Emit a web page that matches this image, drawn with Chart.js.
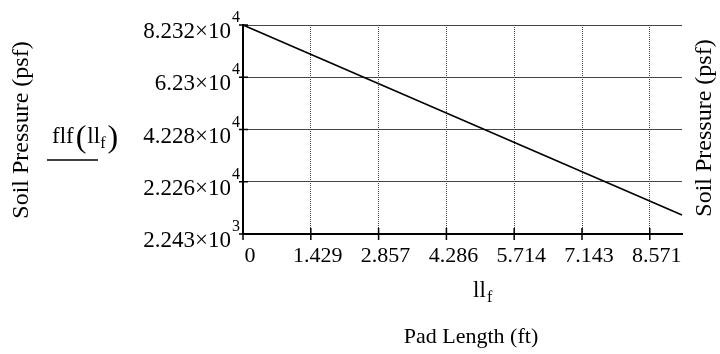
<!DOCTYPE html>
<html>
<head>
<meta charset="utf-8">
<title>Soil Pressure vs Pad Length</title>
<script src="https://cdn.jsdelivr.net/npm/chart.js@4.4.0/dist/chart.umd.min.js"></script>
<style>
    html, body { margin: 0; padding: 0; background: #fff; }
    #wrap { width: 720px; height: 354px; }
</style>
</head>
<body>
<div id="wrap"><canvas id="pressureChart" width="720" height="354"></canvas></div>
<script>
// Values
const padLength = [0, 9.25];            // ft
const soilPressure = [82320, 9520];     // psf

const xTicks = [0, 1.429, 2.857, 4.286, 5.714, 7.143, 8.571];
const xTickLabels = ['0', '1.429', '2.857', '4.286', '5.714', '7.143', '8.571'];
const yTicks = [2243, 22260, 42280, 62300, 82320];
const yTickMantissa = ['2.243', '2.226', '4.228', '6.23', '8.232'];
const yTickExponent = ['3', '4', '4', '4', '4'];

const xMin = 0, xMax = 9.25;
const yMin = 2243, yMax = 82320;

const serif = '"Liberation Serif", "Times New Roman", serif';

// Mathcad style labels, crossing tick marks and titles
const mathcadLabels = {
    id: 'mathcadLabels',
    afterDraw(chart) {
        const ctx = chart.ctx;
        const xs = chart.scales.x;
        const ys = chart.scales.y;
        const area = chart.chartArea;
        ctx.save();
        ctx.fillStyle = '#000';
        ctx.strokeStyle = '#000';

        // tick marks crossing the axes
        ctx.lineWidth = 1.5;
        xTicks.forEach(v => {
            const px = xs.getPixelForValue(v);
            ctx.beginPath();
            ctx.moveTo(px, area.bottom - 6);
            ctx.lineTo(px, area.bottom + 6);
            ctx.stroke();
        });
        yTicks.forEach(v => {
            const py = ys.getPixelForValue(v);
            ctx.beginPath();
            ctx.moveTo(area.left - 4, py);
            ctx.lineTo(area.left + 5, py);
            ctx.stroke();
        });

        // y tick labels: mantissa x 10 with a raised exponent
        ctx.textBaseline = 'middle';
        yTicks.forEach((v, i) => {
            const py = ys.getPixelForValue(v);
            ctx.font = '23px ' + serif;
            ctx.textAlign = 'right';
            ctx.fillText(yTickMantissa[i] + '\u00d710', area.left - 12, py + 7);
            ctx.font = '16px ' + serif;
            ctx.textAlign = 'left';
            ctx.fillText(yTickExponent[i], area.left - 11, py - 7);
        });

        // x tick labels
        ctx.font = '22px ' + serif;
        ctx.textAlign = 'center';
        xTicks.forEach((v, i) => {
            const px = xs.getPixelForValue(v);
            ctx.fillText(xTickLabels[i], px + 7, area.bottom + 22);
        });

        // x variable name ll_f
        ctx.textAlign = 'left';
        ctx.textBaseline = 'alphabetic';
        ctx.font = '23px ' + serif;
        ctx.fillText('ll', 473, 297);
        ctx.font = '16px ' + serif;
        ctx.fillText('f', 487, 302);

        // x axis title
        ctx.font = '22px ' + serif;
        ctx.textAlign = 'center';
        ctx.textBaseline = 'middle';
        ctx.fillText('Pad Length (ft)', 471, 337);

        // rotated y titles, left and right
        ctx.font = '24px ' + serif;
        [[22, 130], [705, 128]].forEach(pos => {
            ctx.save();
            ctx.translate(pos[0], pos[1]);
            ctx.rotate(-Math.PI / 2);
            ctx.fillText('Soil Pressure (psf)', 0, 0);
            ctx.restore();
        });

        // function name flf(ll_f) with underline
        ctx.textAlign = 'left';
        ctx.textBaseline = 'alphabetic';
        let x = 52;
        const base = 143;
        ctx.font = '23px ' + serif;
        ctx.fillText('flf', x, base);
        x += ctx.measureText('flf').width + 2;
        ctx.font = '32px ' + serif;
        ctx.fillText('(', x, base + 4);
        x += ctx.measureText('(').width + 1;
        ctx.font = '23px ' + serif;
        ctx.fillText('ll', x, base);
        x += ctx.measureText('ll').width;
        ctx.font = '16px ' + serif;
        ctx.fillText('f', x, base + 5);
        x += ctx.measureText('f').width + 2;
        ctx.font = '32px ' + serif;
        ctx.fillText(')', x, base + 4);

        ctx.lineWidth = 1.5;
        ctx.beginPath();
        ctx.moveTo(47, 160);
        ctx.lineTo(98, 160);
        ctx.stroke();

        ctx.restore();
    }
};

const ctx = document.getElementById('pressureChart').getContext('2d');
const chart = new Chart(ctx, {
    type: 'scatter',
    data: {
        datasets: [{
            data: padLength.map((v, i) => ({ x: v, y: soilPressure[i] })),
            showLine: true,
            borderColor: '#000',
            borderWidth: 1.6,
            pointRadius: 0,
            clip: 4
        }]
    },
    options: {
        responsive: false,
        animation: false,
        layout: { padding: { left: 243, top: 25, right: 38, bottom: 120 } },
        plugins: {
            legend: { display: false },
            tooltip: { enabled: false }
        },
        scales: {
            x: {
                type: 'linear',
                min: xMin,
                max: xMax,
                afterBuildTicks: scale => { scale.ticks = xTicks.map(v => ({ value: v })); },
                ticks: { display: false },
                grid: { color: '#444', lineWidth: 1, drawTicks: false },
                border: { display: true, color: '#000', width: 2, dash: [1, 1] }
            },
            y: {
                type: 'linear',
                min: yMin,
                max: yMax,
                afterBuildTicks: scale => { scale.ticks = yTicks.map(v => ({ value: v })); },
                ticks: { display: false },
                grid: { color: '#444', lineWidth: 1, drawTicks: false },
                border: { display: true, color: '#000', width: 2 }
            }
        }
    },
    plugins: [mathcadLabels]
});
</script>
</body>
</html>
